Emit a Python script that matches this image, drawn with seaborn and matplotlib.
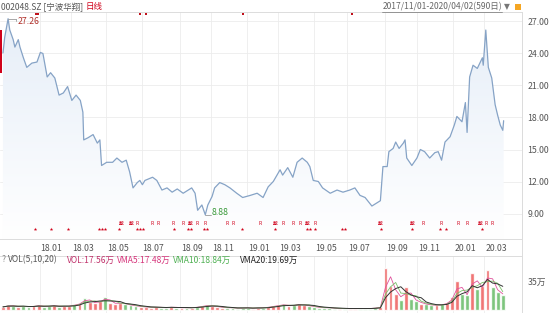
import numpy as np
import pandas as pd
import matplotlib
matplotlib.use("Agg")
import matplotlib.pyplot as plt
import seaborn as sns
from matplotlib.transforms import blended_transform_factory
from matplotlib.lines import Line2D
from matplotlib.patches import Rectangle
from matplotlib.colors import LinearSegmentedColormap

# ---------------- data (trading-day index, 0 = 2017/11/01) ----------------
price_day = [0, 2, 6, 8, 12, 14, 18, 20, 24, 28, 34, 40, 44, 47, 52, 56, 61, 66, 71, 76,
             81, 86, 91, 94, 95, 100, 106, 111, 114, 116, 122, 129, 134, 140, 145, 149,
             153, 158, 161, 164, 167, 176, 181, 187, 193, 199, 205, 212, 222, 226, 229,
             234, 238, 241, 246, 249, 255, 261, 267, 275, 282, 291, 299, 306, 312, 318,
             326, 329, 335, 341, 346, 352, 358, 361, 365, 371, 376, 385, 393, 400, 408,
             414, 420, 426, 434, 440, 444, 447, 452, 454, 459, 462, 466, 471, 473, 475,
             481, 487, 491, 496, 502, 508, 512, 516, 520, 526, 531, 534, 540, 544, 546,
             549, 553, 558, 561, 564, 565, 568, 571, 575, 579, 582, 585, 588, 589]
price = [24.05, 25.5, 27.26, 26.2, 25.3, 24.6, 25.3, 24.6, 23.6, 22.7, 23.1, 23.2, 24.1,
         24.0, 21.8, 22.2, 21.7, 20.1, 20.3, 20.9, 19.6, 20.1, 19.6, 18.5, 15.9, 16.1,
         16.4, 15.6, 15.9, 13.5, 13.8, 13.8, 14.2, 13.8, 14.0, 12.9, 11.4, 11.9, 12.1,
         11.7, 12.1, 12.4, 12.1, 11.2, 11.4, 11.0, 11.3, 10.9, 11.4, 10.9, 9.3, 9.8, 8.88,
         9.8, 10.6, 11.4, 11.9, 11.7, 11.4, 10.9, 10.5, 10.7, 10.9, 10.5, 11.5, 12.0, 13.1,
         12.6, 13.3, 12.4, 13.8, 14.2, 13.8, 13.4, 12.1, 12.0, 11.4, 10.9, 11.2, 11.0,
         11.2, 11.4, 10.7, 10.5, 9.7, 10.0, 10.2, 13.4, 13.4, 14.8, 15.1, 15.7, 15.1, 15.6,
         15.9, 14.2, 13.5, 14.2, 15.0, 14.8, 14.2, 14.7, 14.8, 14.0, 15.7, 16.2, 17.3,
         18.1, 17.6, 19.4, 16.6, 21.8, 22.9, 22.6, 23.1, 23.6, 22.9, 26.2, 22.7, 21.7,
         19.2, 18.2, 17.3, 16.8, 17.7]

vol_day = list(range(0, 589, 6))
volume = [4, 6, 5, 4, 5, 4, 5, 6, 4, 5, 6, 4, 5, 5, 7, 8, 15, 10, 9, 11,
          16, 9, 8, 9, 7, 6, 5, 4, 4, 3, 4, 3, 3, 4, 3, 3, 3, 3, 4, 5,
          6, 5, 4, 3, 3, 3, 2, 3, 3, 2, 3, 3, 4, 5, 6, 7, 5, 6, 8, 6,
          5, 4, 3, 3, 3, 2, 2, 2, 2, 2, 2, 2, 2, 3, 4, 52, 30, 20, 13, 28,
          14, 11, 8, 7, 6, 6, 7, 9, 16, 36, 20, 18, 46, 26, 30, 49, 28, 22, 18]

month_day = [43, 80, 121, 163, 208, 245, 287, 324, 366, 405, 450, 487, 530, 566]
month_label = ["18.01", "18.03", "18.05", "18.07", "18.09", "18.11", "19.01",
               "19.03", "19.05", "19.07", "19.09", "19.11", "20.01", "20.03"]
price_ticks = [9, 12, 15, 18, 21, 24, 27]

star_day = [38, 56, 76, 113, 116, 120, 136, 158, 161, 165, 201, 218, 221, 236, 240,
            281, 320, 358, 361, 367, 399, 402, 445, 481, 514, 521, 564]
event_day = [139, 151, 158, 175, 182, 200, 212, 220, 228, 238, 264, 271, 302, 320,
             329, 341, 349, 358, 367, 444, 481, 494, 516, 535, 546, 561, 568, 575]
event_text = ["戴", "戴", "R", "R", "R", "R", "R", "戴", "R", "R", "R", "R", "R", "戴",
              "R", "R", "R", "戴", "R", "戴", "戴", "R", "R", "R", "R", "戴", "R", "R"]
flag_day = [39, 41, 161, 168, 282, 411]

max_day, max_val = 6, 27.26
min_day, min_val = 238, 8.88

# ---------------- style ----------------
sns.set_theme(style="white")
plt.rcParams["font.family"] = ["Noto Sans CJK SC", "DejaVu Sans"]
FS = 6.3
HFS = 6.1
W, H = 550, 313
fig = plt.figure(figsize=(W / 100, H / 100), dpi=100)
fig.patch.set_facecolor("white")

def fy(y):
    return 1 - y / H

XL = (-3.5, 610.6)
YL = (6.61, 27.89)
right_px = 522
ax = fig.add_axes([0, fy(239), right_px / W, (239 - 12) / H])

grid_c = "#ececec"
for v in price_ticks:
    ax.axhline(v, color=grid_c, lw=0.6, zorder=0)
for d in month_day:
    ax.axvline(d, color=grid_c, lw=0.6, zorder=0)

line_c = "#86a3c6"
sns.lineplot(x=price_day, y=price, ax=ax, color=line_c, linewidth=0.9, zorder=3)
poly = ax.fill_between(price_day, price, YL[0], color="none", lw=0)
grad = np.linspace(1, 0, 256).reshape(-1, 1)
cmap = LinearSegmentedColormap.from_list("g", ["#ffffff", "#e6eef8"])
im = ax.imshow(grad, cmap=cmap, aspect="auto", extent=(XL[0], XL[1], YL[0], 27.3),
               origin="upper", zorder=1)
im.set_clip_path(poly.get_paths()[0], transform=ax.transData)
ax.set_xlim(*XL)
ax.set_ylim(*YL)

ax.yaxis.tick_right()
ax.set_yticks(price_ticks)
ax.set_yticklabels([f"{v:.2f}" for v in price_ticks])
ax.tick_params(axis="y", length=0, pad=4, labelsize=FS, labelcolor="#555555")
ax.set_xticks([])
ax.set_xlabel("")
ax.set_ylabel("")
ax.spines["left"].set_visible(False)
for s in ["top", "bottom", "right"]:
    ax.spines[s].set_color("#dcdcdc")
    ax.spines[s].set_linewidth(0.7)

# month labels
tr = blended_transform_factory(ax.transData, ax.transAxes)
for d, lab in zip(month_day, month_label):
    ax.text(d + 1.2, -0.04, lab, transform=tr, ha="left", va="center",
            fontsize=FS, color="#555555")

# max / min annotations
ax.plot([max_day, max_day + 9], [max_val, max_val], color="#9a9a9a", lw=0.6, zorder=4)
ax.plot([max_day + 9, max_day + 9], [max_val, max_val - 0.25], color="#9a9a9a", lw=0.6, zorder=4)
ax.text(max_day + 11, max_val - 0.3, f"{max_val:.2f}", fontsize=FS, color="#b0302a",
        ha="left", va="center", zorder=5)
ax.plot([min_day, min_day + 7], [min_val, min_val], color="#9a9a9a", lw=0.6, zorder=4)
ax.text(min_day + 8, min_val + 0.25, f"{min_val:.2f}", fontsize=FS, color="#3a9a3a",
        ha="left", va="center", zorder=5)

# event markers
star_y = (239 - 229) / 227.0
ev_y = (239 - 223.5) / 227.0
ax.scatter(star_day, [star_y] * len(star_day), transform=tr, marker="*", s=7,
           color="#d0021b", lw=0, zorder=5, clip_on=False)
for d, t in zip(event_day, event_text):
    ax.text(d, ev_y, t, transform=tr, fontsize=3.6, color="#d0021b", ha="center",
            va="center", zorder=5)
flag_y = (239 - 14) / 227.0
ax.scatter(flag_day, [flag_y] * len(flag_day), transform=tr, marker="s", s=3,
           color="#c0101b", lw=0, zorder=5, clip_on=False)

# ---------------- volume panel ----------------
axv = fig.add_axes([0, fy(313), right_px / W, (313 - 256) / H])
VYL = (-3.0 / 0.857, (310 - 256) / 0.857 + 3 / 0.857)
for d in month_day:
    axv.axvline(d, color=grid_c, lw=0.6, zorder=0)

pd_arr = np.array(price_day)
pr_arr = np.array(price)
dirs = []
for d in vol_day:
    i = np.searchsorted(pd_arr, d, side="right") - 1
    i = max(i, 1)
    dirs.append("up" if pr_arr[i] >= pr_arr[i - 1] else "down")
vdf = pd.DataFrame({"day": vol_day, "vol": volume, "dir": dirs})
sns.barplot(data=vdf, x="day", y="vol", hue="dir", native_scale=True, dodge=False,
            palette={"up": "#ee5d5d", "down": "#66bb66"}, width=0.75, legend=False,
            saturation=1, alpha=0.85, ax=axv, zorder=2)
vs = pd.Series(volume, dtype=float)
sns.lineplot(x=vol_day, y=vs.rolling(2, min_periods=1).mean().values, ax=axv,
             color="#e0529c", lw=0.6, zorder=3)
sns.lineplot(x=vol_day, y=vs.rolling(3, min_periods=1).mean().values, ax=axv,
             color="#7bbf6a", lw=0.6, zorder=3)
sns.lineplot(x=vol_day, y=vs.rolling(4, min_periods=1).mean().values, ax=axv,
             color="#333333", lw=0.7, zorder=3)
axv.set_xlim(*XL)
axv.set_ylim(*VYL)
axv.yaxis.tick_right()
axv.set_yticks([35])
axv.set_yticklabels(["35万"])
axv.tick_params(axis="y", length=0, pad=4, labelsize=FS, labelcolor="#555555")
axv.set_xticks([])
axv.set_xlabel("")
axv.set_ylabel("")
for s in ["left", "bottom"]:
    axv.spines[s].set_visible(False)
for s in ["top", "right"]:
    axv.spines[s].set_color("#dcdcdc")
    axv.spines[s].set_linewidth(0.7)

# right border line through label area
fig.add_artist(Line2D([right_px / W, right_px / W], [0, fy(12)], color="#dcdcdc", lw=0.7))
# left red marker
fig.add_artist(Rectangle((0, fy(73)), 2 / W, 43 / H, color="#d0021b", lw=0))

# volume header text
hy = fy(260)
parts = [("?", 2, "#888888"), ("VOL(5,10,20)", 8, "#555555"),
         ("VOL:17.56万", 67, "#c0306a"), ("VMA5:17.48万", 117, "#d6337a"),
         ("VMA10:18.84万", 173, "#4caf50"), ("VMA20:19.69万", 240, "#222222")]
for t, x, c in parts:
    fig.text(x / W, hy, t, fontsize=HFS, color=c, ha="left", va="center")

# header
fig.text(1 / W, fy(7), "002048.SZ [宁波华翔]", fontsize=HFS, color="#555555",
         ha="left", va="center")
fig.text(86 / W, fy(7), "日线", fontsize=HFS, color="#d0021b", ha="left", va="center")
fig.text(502 / W, fy(7), "2017/11/01-2020/04/02(590日)", fontsize=6.1,
         color="#666666", ha="right", va="center")
fig.add_artist(Line2D([382 / W, 502 / W], [fy(11.5), fy(11.5)], color="#888888", lw=0.6))
fig.text(504 / W, fy(7), "▼", fontsize=5.5, color="#777777", ha="left", va="center",
         family=["DejaVu Sans"])
fig.add_artist(Rectangle((515 / W, fy(10)), 6 / W, 6 / H, color="#f5a623", lw=0))

fig.savefig("out.png", dpi=100)
